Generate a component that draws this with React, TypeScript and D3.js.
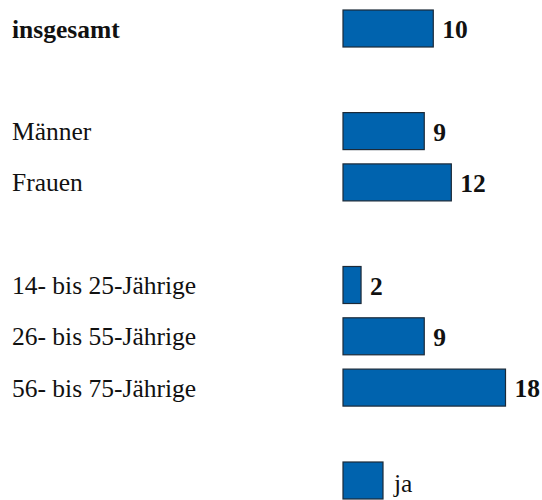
import React from "react";
import * as d3 from "d3";

const categories = [
  "insgesamt",
  "",
  "Männer",
  "Frauen",
  " ",
  "14- bis 25-Jährige",
  "26- bis 55-Jährige",
  "56- bis 75-Jährige",
];
const boldCategories = ["insgesamt"];
const values: (number | null)[] = [10, null, 9, 12, null, 2, 9, 18];
const legendLabel = "ja";

const W = 542;
const H = 500;
const FILL = "#0063ae";
const STROKE = "#1c2a38";
const FONT = "Liberation Serif, Times New Roman, DejaVu Serif, serif";
const textStyle: React.CSSProperties = { fontFamily: FONT };

export default function App() {
  const y = d3
    .scaleBand<string>()
    .domain(categories)
    .range([2.85, 2.85 + 51.3 * categories.length])
    .paddingInner(0)
    .paddingOuter(0);
  const x = d3.scaleLinear().domain([0, 18]).range([343, 505.5]);
  const barH = 37;

  return (
    <svg
      width={W}
      height={H}
      style={{ position: "absolute", left: 0, top: 0, background: "#fff" }}
    >
      {categories.map((c, i) => {
        const v = values[i];
        if (v == null) return null;
        const cy = (y(c) as number) + y.bandwidth() / 2;
        const bold = boldCategories.includes(c);
        return (
          <g key={c}>
            <text
              x={12}
              y={cy + 9}
              fontSize={25.5}
              fontWeight={bold ? "bold" : "normal"}
              fill="#111"
              style={textStyle}
            >
              {c}
            </text>
            <rect
              x={x(0)}
              y={cy - barH / 2}
              width={x(v) - x(0)}
              height={barH}
              fill={FILL}
              stroke={STROKE}
              strokeWidth={1.2}
            />
            <text
              x={x(v) + 9}
              y={cy + 9.5}
              fontSize={25.5}
              fontWeight="bold"
              fill="#111"
              style={textStyle}
            >
              {v}
            </text>
          </g>
        );
      })}
      <rect
        x={343}
        y={462}
        width={40}
        height={37}
        fill={FILL}
        stroke={STROKE}
        strokeWidth={1.2}
      />
      <text x={394} y={492} fontSize={25.5} fill="#111" style={textStyle}>
        {legendLabel}
      </text>
    </svg>
  );
}
